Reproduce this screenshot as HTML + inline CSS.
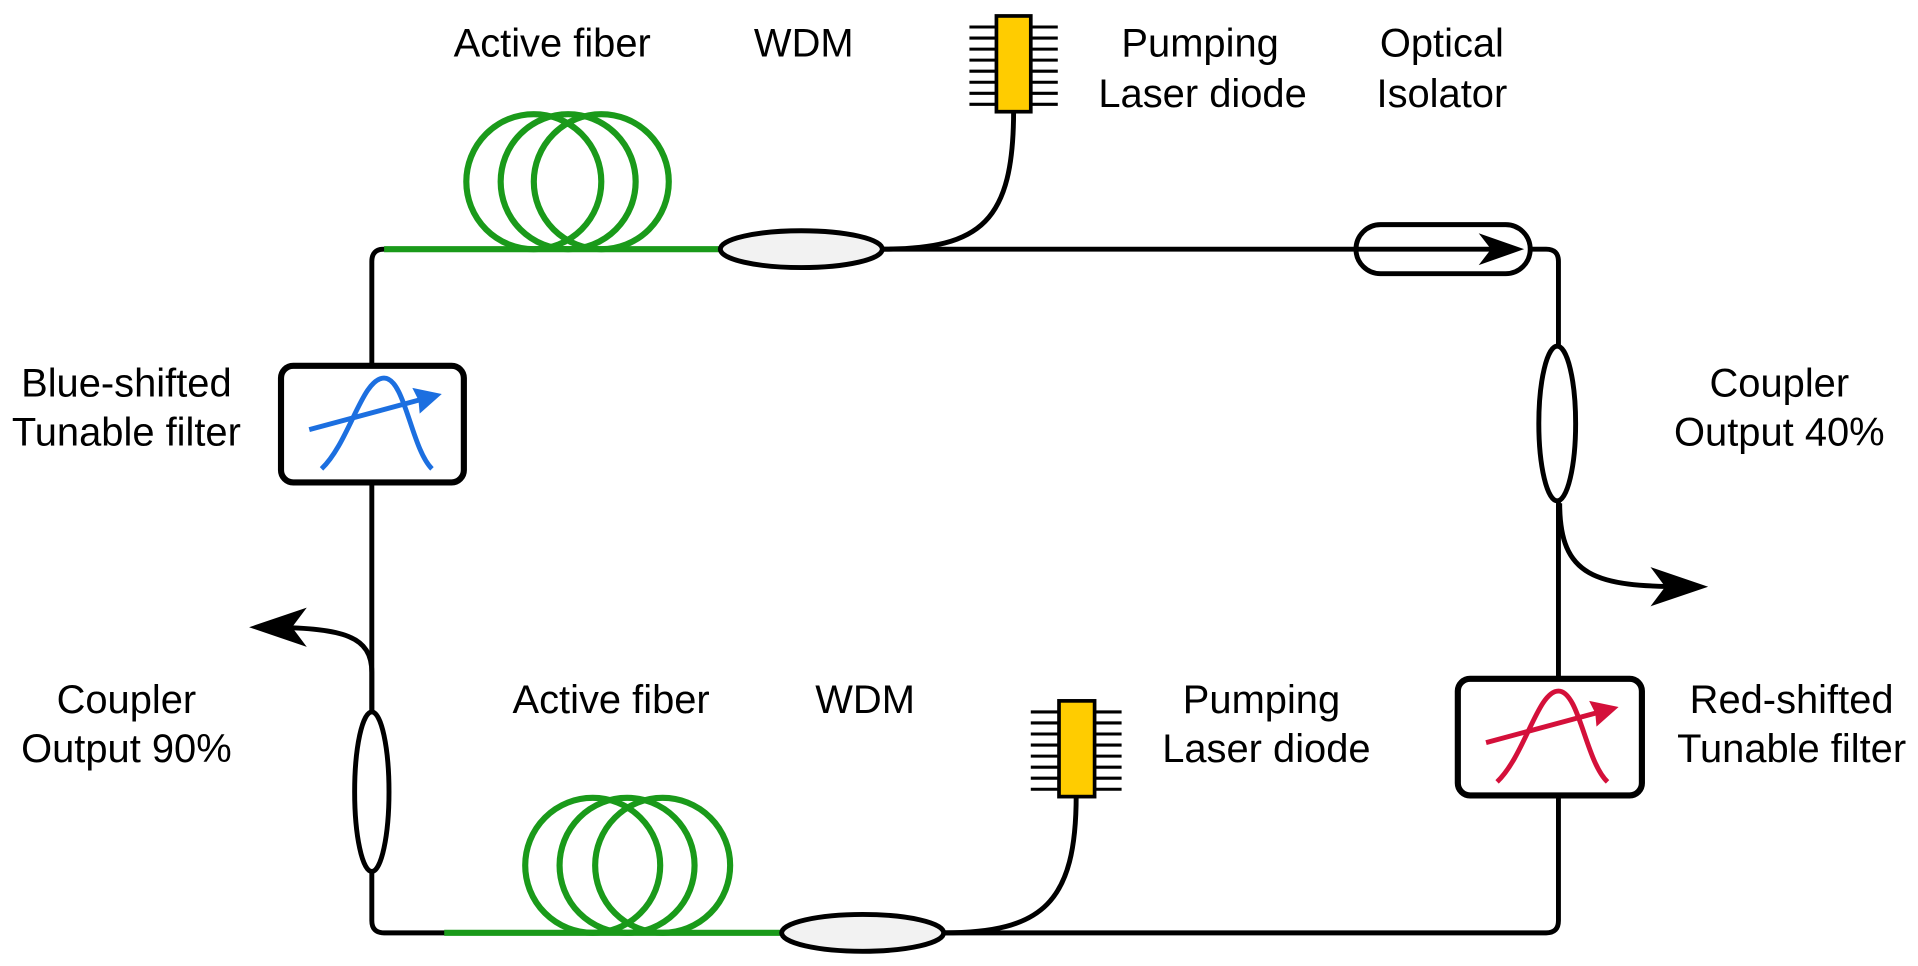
<!DOCTYPE html>
<html><head><meta charset="utf-8"><style>
html,body{margin:0;padding:0;background:#fff;}
svg{display:block;}
text{font-family:"Liberation Sans",Arial,sans-serif;font-size:32.5px;fill:#000;text-anchor:middle;}
</style></head><body>
<svg width="1918" height="966" viewBox="0 0 1563 787" preserveAspectRatio="none" xmlns="http://www.w3.org/2000/svg">
<path d="M313 203 L1260 203 Q1270 203 1270 213 L1270 750 Q1270 760 1260 760 L313 760 Q303 760 303 750 L303 213 Q303 203 313 203 Z" fill="none" stroke="#000" stroke-width="4"/>
<line x1="313" y1="203" x2="590" y2="203" stroke="#1a9a1a" stroke-width="5"/>
<line x1="362" y1="760" x2="640" y2="760" stroke="#1a9a1a" stroke-width="5"/>
<g fill="none" stroke="#1a9a1a" stroke-width="5">
<circle cx="435" cy="148" r="55"/><circle cx="463" cy="148" r="55"/><circle cx="490" cy="148" r="55"/>
<circle cx="483" cy="705" r="55"/><circle cx="511" cy="705" r="55"/><circle cx="540" cy="705" r="55"/>
</g>
<ellipse cx="653" cy="203" rx="66" ry="15" fill="#f2f2f2" stroke="#000" stroke-width="4"/>
<ellipse cx="703" cy="760" rx="66" ry="15" fill="#f2f2f2" stroke="#000" stroke-width="4"/>
<path d="M719 203 C800 203 826 180 826 90" fill="none" stroke="#000" stroke-width="4"/>
<path d="M769 760 C850 760 877 735 877 648" fill="none" stroke="#000" stroke-width="4"/>
<g stroke="#000" stroke-width="2.5">
<line x1="790" y1="22" x2="862" y2="22"/><line x1="790" y1="31" x2="862" y2="31"/><line x1="790" y1="40" x2="862" y2="40"/><line x1="790" y1="49" x2="862" y2="49"/><line x1="790" y1="58" x2="862" y2="58"/><line x1="790" y1="67" x2="862" y2="67"/><line x1="790" y1="76" x2="862" y2="76"/><line x1="790" y1="85" x2="862" y2="85"/>
<line x1="840" y1="580" x2="914" y2="580"/><line x1="840" y1="589" x2="914" y2="589"/><line x1="840" y1="598" x2="914" y2="598"/><line x1="840" y1="607" x2="914" y2="607"/><line x1="840" y1="616" x2="914" y2="616"/><line x1="840" y1="625" x2="914" y2="625"/><line x1="840" y1="634" x2="914" y2="634"/><line x1="840" y1="643" x2="914" y2="643"/>
</g>
<rect x="812" y="13" width="28" height="78" fill="#ffcc00" stroke="#000" stroke-width="3"/>
<rect x="863" y="571" width="29" height="78" fill="#ffcc00" stroke="#000" stroke-width="3"/>
<rect x="1105" y="183" width="142" height="40" rx="20" fill="#fff" stroke="#000" stroke-width="4"/>
<line x1="1105" y1="203" x2="1232" y2="203" stroke="#000" stroke-width="4"/>
<path d="M1242 203 L1205 190 L1215 203 L1205 216 Z" fill="#000"/>
<ellipse cx="1269" cy="345" rx="15" ry="63" fill="#fff" stroke="#000" stroke-width="4"/>
<path d="M1271 410 C1271 470 1300 478 1375 478" fill="none" stroke="#000" stroke-width="4"/>
<path d="M1392 478 L1345 462 L1357 478 L1345 494 Z" fill="#000"/>
<ellipse cx="303" cy="645" rx="14" ry="65" fill="#fff" stroke="#000" stroke-width="4"/>
<path d="M303 580 L303 548 C303 518 280 512 222 511" fill="none" stroke="#000" stroke-width="4"/>
<path d="M203 511 L250 495 L238 511 L250 527 Z" fill="#000"/>
<rect x="229" y="298" width="149" height="95" rx="10" fill="#fff" stroke="#000" stroke-width="5"/>
<path d="M262 382 C285 360 295 308 313 308 C330 308 335 365 352 382" fill="none" stroke="#1c6fe0" stroke-width="4"/>
<line x1="252" y1="350" x2="345" y2="325" stroke="#1c6fe0" stroke-width="4"/>
<path d="M360 321 L336 316 L341 326 L342 337 Z" fill="#1c6fe0"/>
<rect x="1188" y="553" width="150" height="95" rx="10" fill="#fff" stroke="#000" stroke-width="5"/>
<path d="M1220 637 C1243 615 1253 563 1270 563 C1287 563 1292 620 1310 637" fill="none" stroke="#d4103a" stroke-width="4"/>
<line x1="1211" y1="605" x2="1304" y2="580" stroke="#d4103a" stroke-width="4"/>
<path d="M1319 576 L1295 571 L1300 581 L1301 592 Z" fill="#d4103a"/>
<text x="450" y="46">Active fiber</text>
<text x="655" y="46">WDM</text>
<text x="978" y="46">Pumping</text><text x="980" y="87">Laser diode</text>
<text x="1175" y="46">Optical</text><text x="1175" y="87">Isolator</text>
<text x="1450" y="323">Coupler</text><text x="1450" y="363">Output 40%</text>
<text x="103" y="323">Blue-shifted</text><text x="103" y="363">Tunable filter</text>
<text x="103" y="581">Coupler</text><text x="103" y="621">Output 90%</text>
<text x="498" y="581">Active fiber</text>
<text x="705" y="581">WDM</text>
<text x="1028" y="581">Pumping</text><text x="1032" y="621">Laser diode</text>
<text x="1460" y="581">Red-shifted</text><text x="1460" y="621">Tunable filter</text>
</svg>
</body></html>
